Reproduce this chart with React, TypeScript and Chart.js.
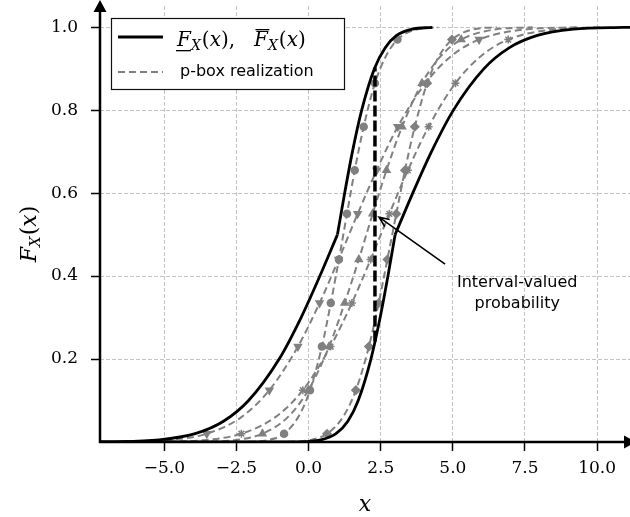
import React, { useEffect, useRef } from "react";
import { Chart, registerables } from "chart.js";

Chart.register(...registerables);

// ---------------- data ----------------
const xTicks = [-5, -2.5, 0, 2.5, 5, 7.5, 10];
const yTicks = [0.2, 0.4, 0.6, 0.8, 1.0];

// upper CDF bound (left black curve), two branches meeting at the kink
const upperLowX = [-7.23, -6.9, -5.18, -3.93, -2.95, -2.08, -1.02, -0.26, 0.39, 1.0];
const upperLowF = [0.0003, 0.0005, 0.005, 0.02, 0.05, 0.1, 0.2, 0.3, 0.4, 0.5];
const upperHighX = [1.0, 1.25, 1.52, 1.84, 2.28, 2.65, 3.05, 3.58, 4.29];
const upperHighF = [0.5, 0.6, 0.7, 0.8, 0.9, 0.95, 0.98, 0.995, 0.9995];

// lower CDF bound (right black curve)
const lowerLowX = [-7.23, -0.29, 0.42, 0.95, 1.36, 1.72, 2.16, 2.48, 2.75, 3.0];
const lowerLowF = [0, 0.0005, 0.005, 0.02, 0.05, 0.1, 0.2, 0.3, 0.4, 0.5];
const lowerHighX = [3.0, 3.61, 4.26, 5.02, 6.08, 6.95, 7.93, 9.18, 10.9, 11.14];
const lowerHighF = [0.5, 0.6, 0.7, 0.8, 0.9, 0.95, 0.98, 0.995, 0.9995, 0.9997];

// p-box realizations (shared probability levels)
const realizationF = [0.0005, 0.005, 0.02, 0.06, 0.125, 0.23, 0.335, 0.44, 0.55, 0.655, 0.76, 0.865, 0.93, 0.97, 0.995, 0.9995];
const realization1X = [-2.09, -1.38, -0.85, -0.36, 0.05, 0.46, 0.77, 1.05, 1.33, 1.6, 1.91, 2.3, 2.68, 3.08, 3.78, 4.49];
const realization2X = [-6.5, -4.78, -3.53, -2.33, -1.36, -0.37, 0.38, 1.04, 1.7, 2.36, 3.09, 4.05, 4.94, 5.91, 7.58, 9.3];
const realization3X = [-3.76, -2.51, -1.6, -0.72, -0.01, 0.71, 1.25, 1.74, 2.22, 2.7, 3.24, 3.93, 4.58, 5.29, 6.51, 7.76];
const realization4X = [-5.23, -3.55, -2.33, -1.15, -0.2, 0.76, 1.5, 2.15, 2.8, 3.44, 4.16, 5.09, 5.97, 6.92, 8.55, 10.23];
const realization5X = [-0.72, 0.07, 0.64, 1.19, 1.64, 2.09, 2.43, 2.73, 3.04, 3.34, 3.68, 4.11, 4.52, 4.97, 5.73, 6.52];
const markerLevels = [0.02, 0.125, 0.23, 0.335, 0.44, 0.55, 0.655, 0.76, 0.865, 0.97];

// interval-valued probability at x = 2.3
const intervalX = [2.3, 2.3];
const intervalF = [0.242, 0.903];

// ---------------- layout / style ----------------
const X_MIN = -7.23;
const X_MAX = 11.14;
const Y_MIN = 0;
const Y_MAX = 1.051;
const GRAY = "#808080";
const ANN_TIP = { x: 2.44, y: 0.542 };
const ANN_TAIL = { x: 4.73, y: 0.429 };
const ANN_TEXT = { x: 7.23, y: 0.3735 };

const pts = (xs: number[], ys: number[]) => xs.map((x, i) => ({ x, y: ys[i] }));
const fmt = (v: number) => (v < 0 ? "\u2212" : "") + Math.abs(v).toFixed(1);

function drawPieces(ctx: CanvasRenderingContext2D, pieces: any[], x0: number, base: number) {
  let x = x0;
  for (const p of pieces) {
    if (p.at !== undefined) x = p.at;
    if (p.gap) { x += p.gap; continue; }
    ctx.font = p.f;
    const w = ctx.measureText(p.t).width;
    ctx.fillText(p.t, x, base + (p.dy || 0));
    if (p.u) {
      ctx.fillRect(x - 1, base + 4, w + 1, 1.3);
    }
    if (p.o) {
      ctx.fillRect(x + 1.5, base - 17, w, 1.3);
    }
    x += w + (p.k || 0);
  }
  return x;
}

function measurePieces(ctx: CanvasRenderingContext2D, pieces: any[]) {
  let x = 0;
  for (const p of pieces) {
    if (p.gap) { x += p.gap; continue; }
    ctx.font = p.f;
    x += ctx.measureText(p.t).width + (p.k || 0);
  }
  return x;
}

const decorPlugin = {
  id: "decor",
  afterDraw(chart: any) {
    const { ctx, chartArea: a, scales } = chart;
    const sx = scales.x;
    const sy = scales.y;
    ctx.save();
    ctx.setLineDash([]);

    // spines with arrows
    ctx.strokeStyle = "#000";
    ctx.lineWidth = 2.5;
    ctx.beginPath();
    ctx.moveTo(a.left, a.bottom);
    ctx.lineTo(a.left, a.top);
    ctx.moveTo(a.left - 1.25, a.bottom);
    ctx.lineTo(a.right, a.bottom);
    ctx.stroke();
    ctx.fillStyle = "#000";
    ctx.beginPath();
    ctx.moveTo(a.left, a.top - 6);
    ctx.lineTo(a.left - 6.5, a.top + 6);
    ctx.lineTo(a.left + 6.5, a.top + 6);
    ctx.closePath();
    ctx.fill();
    ctx.beginPath();
    ctx.moveTo(a.right + 6, a.bottom);
    ctx.lineTo(a.right - 6, a.bottom - 6.5);
    ctx.lineTo(a.right - 6, a.bottom + 6.5);
    ctx.closePath();
    ctx.fill();

    // legend
    ctx.fillStyle = "#fff";
    ctx.fillRect(111, 18, 233, 71);
    ctx.strokeStyle = "#111";
    ctx.lineWidth = 1.2;
    ctx.strokeRect(111.5, 18.5, 233, 71);
    ctx.strokeStyle = "#000";
    ctx.lineWidth = 2.8;
    ctx.beginPath();
    ctx.moveTo(118, 37);
    ctx.lineTo(163, 37);
    ctx.stroke();
    ctx.strokeStyle = GRAY;
    ctx.lineWidth = 2;
    ctx.setLineDash([7, 4]);
    ctx.beginPath();
    ctx.moveTo(118, 72);
    ctx.lineTo(163, 72);
    ctx.stroke();
    ctx.setLineDash([]);
    ctx.fillStyle = "#000";
    ctx.textAlign = "left";
    ctx.textBaseline = "middle";
    ctx.font = '16px "DejaVu Sans"';
    ctx.fillText("p-box realization", 180, 72);

    ctx.textBaseline = "alphabetic";
    const it = 'italic 20px "DejaVu Serif"';
    const rm = '20px "DejaVu Serif"';
    const sub = 'italic 14px "DejaVu Serif"';
    drawPieces(ctx, [
      { t: "F", f: it, u: true },
      { t: "X", f: sub, dy: 4, k: 1 },
      { t: "(", f: rm },
      { t: "x", f: it },
      { t: ")", f: rm },
      { t: ",", f: rm },
      { t: "F", f: it, o: true, at: 254 },
      { t: "X", f: sub, dy: 4, k: 1 },
      { t: "(", f: rm },
      { t: "x", f: it },
      { t: ")", f: rm },
    ], 177, 46);

    // annotation
    const tipX = sx.getPixelForValue(ANN_TIP.x);
    const tipY = sy.getPixelForValue(ANN_TIP.y);
    const tailX = sx.getPixelForValue(ANN_TAIL.x);
    const tailY = sy.getPixelForValue(ANN_TAIL.y);
    ctx.strokeStyle = "#000";
    ctx.lineWidth = 1.6;
    ctx.beginPath();
    ctx.moveTo(tailX, tailY);
    ctx.lineTo(tipX, tipY);
    const ang = Math.atan2(tailY - tipY, tailX - tipX);
    const hl = 11;
    const ha = 0.4;
    ctx.moveTo(tipX + hl * Math.cos(ang + ha), tipY + hl * Math.sin(ang + ha));
    ctx.lineTo(tipX, tipY);
    ctx.lineTo(tipX + hl * Math.cos(ang - ha), tipY + hl * Math.sin(ang - ha));
    ctx.stroke();
    const tx = sx.getPixelForValue(ANN_TEXT.x);
    const ty = sy.getPixelForValue(ANN_TEXT.y);
    ctx.font = '16px "DejaVu Sans"';
    ctx.textAlign = "center";
    ctx.textBaseline = "alphabetic";
    ctx.fillText("Interval-valued", tx, ty);
    ctx.fillText("probability", tx, ty + 21);

    // axis titles
    ctx.textAlign = "center";
    ctx.font = 'italic 22px "DejaVu Serif"';
    ctx.fillText("x", (a.left + a.right) / 2, 511);

    const yPieces = [
      { t: "F", f: 'italic 22px "DejaVu Serif"' },
      { t: "X", f: 'italic 15px "DejaVu Serif"', dy: 4, k: 1 },
      { t: "(", f: '22px "DejaVu Serif"' },
      { t: "x", f: 'italic 22px "DejaVu Serif"' },
      { t: ")", f: '22px "DejaVu Serif"' },
    ];
    ctx.save();
    ctx.translate(36, 234);
    ctx.rotate(-Math.PI / 2);
    ctx.textAlign = "left";
    const w = measurePieces(ctx, yPieces);
    drawPieces(ctx, yPieces, -w / 2, 0);
    ctx.restore();

    ctx.restore();
  },
};

function grayDataset(xs: number[], style: string, rotation: number, radius: number) {
  return {
    data: pts(xs, realizationF),
    showLine: true,
    borderColor: GRAY,
    borderWidth: 2,
    borderDash: [7, 4],
    cubicInterpolationMode: "monotone" as const,
    fill: false,
    pointStyle: style,
    pointRotation: rotation,
    pointRadius: realizationF.map((f) => (markerLevels.includes(f) ? radius : 0)),
    pointBackgroundColor: GRAY,
    pointBorderColor: GRAY,
    pointBorderWidth: 1.5,
  };
}

function blackDataset(xs: number[], ys: number[]) {
  return {
    data: pts(xs, ys),
    showLine: true,
    borderColor: "#000",
    borderWidth: 2.8,
    cubicInterpolationMode: "monotone" as const,
    fill: false,
    pointRadius: 0,
  };
}

const zeroPad = (s: any) => {
  s.paddingTop = 0;
  s.paddingBottom = 0;
  s.paddingLeft = 0;
  s.paddingRight = 0;
};

export default function App() {
  const ref = useRef<HTMLCanvasElement | null>(null);
  useEffect(() => {
    document.body.style.margin = "0";
    const canvas = ref.current;
    if (!canvas) return;
    const tickFont = { family: "DejaVu Serif", size: 17 };
    const chart = new Chart(canvas, {
      type: "scatter",
      data: {
        datasets: [
          {
            data: pts(intervalX, intervalF),
            showLine: true,
            borderColor: "#000",
            borderWidth: 3.5,
            borderDash: [11, 4],
            pointRadius: 0,
            fill: false,
          } as any,
          blackDataset(upperLowX, upperLowF),
          blackDataset(upperHighX, upperHighF),
          blackDataset(lowerLowX, lowerLowF),
          blackDataset(lowerHighX, lowerHighF),
          grayDataset(realization1X, "circle", 0, 3.5),
          grayDataset(realization2X, "triangle", 180, 4),
          grayDataset(realization3X, "triangle", 0, 4),
          grayDataset(realization4X, "star", 0, 4),
          grayDataset(realization5X, "rectRot", 0, 4),
        ],
      },
      options: {
        responsive: false,
        animation: false,
        devicePixelRatio: 1,
        layout: { padding: { top: 6, right: 0, left: 0, bottom: 0 } },
        plugins: { legend: { display: false }, tooltip: { enabled: false } },
        events: [],
        scales: {
          x: {
            type: "linear",
            min: X_MIN,
            max: X_MAX,
            afterBuildTicks: (s: any) => {
              s.ticks = xTicks.map((v) => ({ value: v }));
            },
            afterFit: (s: any) => {
              s.height = 75;
              zeroPad(s);
            },
            ticks: {
              callback: (v: any) => fmt(Number(v)),
              font: tickFont,
              color: "#000",
              padding: 7,
              maxRotation: 0,
              autoSkip: false,
            },
            grid: {
              color: "#c4c4c4",
              lineWidth: 1,
              tickLength: 9,
              tickColor: "#000",
              tickWidth: 1.5,
              drawTicks: true,
            },
            border: { display: false, dash: [4, 2] },
          },
          y: {
            type: "linear",
            min: Y_MIN,
            max: Y_MAX,
            afterBuildTicks: (s: any) => {
              s.ticks = yTicks.map((v) => ({ value: v }));
            },
            afterFit: (s: any) => {
              s.width = 100;
              zeroPad(s);
            },
            ticks: {
              callback: (v: any) => fmt(Number(v)),
              font: tickFont,
              color: "#000",
              padding: 13,
              autoSkip: false,
            },
            grid: {
              color: "#c4c4c4",
              lineWidth: 1,
              tickLength: 9,
              tickColor: "#000",
              tickWidth: 1.5,
              drawTicks: true,
            },
            border: { display: false, dash: [4, 2] },
          },
        },
      } as any,
      plugins: [decorPlugin],
    });
    return () => chart.destroy();
  }, []);
  return (
    <div style={{ width: 630, height: 517 }}>
      <canvas ref={ref} width={630} height={517} style={{ display: "block" }} />
    </div>
  );
}
